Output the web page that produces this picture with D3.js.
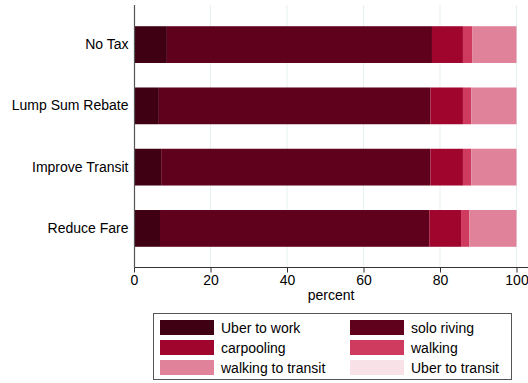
<!DOCTYPE html>
<html>
<head>
<meta charset="utf-8">
<script src="https://cdn.jsdelivr.net/npm/d3@7"></script>
<style>
  body { margin: 0; background: #fff; }
  text { font-family: "Liberation Sans", Arial, sans-serif; fill: #000; }
</style>
</head>
<body>
<svg id="chart" width="528" height="383"></svg>
<script>
// scenarios, top to bottom
let scenarios = ["No Tax", "Lump Sum Rebate", "Improve Transit", "Reduce Fare"];

// mode shares in percent, one array per mode (same order as scenarios)
let uberToWork     = [8.6, 6.5, 7.1, 6.8];
let soloRiving     = [69.3, 71.0, 70.4, 70.4];
let carpooling     = [8.1, 8.5, 8.5, 8.3];
let walking        = [2.5, 2.2, 2.2, 2.2];
let walkingTransit = [11.5, 11.8, 11.8, 12.3];
let uberTransit    = [0, 0, 0, 0];

let modes = ["Uber to work", "solo riving", "carpooling", "walking", "walking to transit", "Uber to transit"];
let modeColors = ["#3e0012", "#5f001c", "#a0052d", "#cf3a5f", "#e0839a", "#f8e2e8"];
let xTicks = [0, 20, 40, 60, 80, 100];

let svg = d3.select("#chart");
let width = 528, height = 383;
let fontSize = "14px";

let seriesValues = [uberToWork, soloRiving, carpooling, walking, walkingTransit, uberTransit];
let rows = scenarios.map(function(s, i) {
    let row = {scenario: s};
    modes.forEach(function(m, j) { row[m] = seriesValues[j][i]; });
    return row;
});
let stacked = d3.stack().keys(modes)(rows);

let x = d3.scaleLinear().domain([0, 100]).range([134, 516.5]);
let y = d3.scaleBand().domain(scenarios).range([6, 267])
    .paddingInner(0.4).paddingOuter(0.33);
let color = d3.scaleOrdinal().domain(modes).range(modeColors);

// grid lines
svg.append("g")
    .selectAll("line")
    .data(xTicks.slice(1))
    .join("line")
    .attr("x1", d => x(d)).attr("x2", d => x(d))
    .attr("y1", 5).attr("y2", 267)
    .attr("stroke", "#e6eff1")
    .attr("stroke-width", 1);

// bars
svg.append("g")
    .selectAll("g")
    .data(stacked)
    .join("g")
    .attr("fill", d => color(d.key))
    .selectAll("rect")
    .data(d => d)
    .join("rect")
    .attr("x", d => x(d[0]))
    .attr("width", d => x(d[1]) - x(d[0]))
    .attr("y", d => y(d.data.scenario))
    .attr("height", y.bandwidth());

// x axis
let xAxis = svg.append("g")
    .attr("transform", "translate(0,267.5)")
    .call(d3.axisBottom(x).tickValues(xTicks).tickSize(5).tickPadding(3));
xAxis.select(".domain").remove();
xAxis.append("line")
    .attr("x1", 134).attr("x2", width)
    .attr("stroke", "#333").attr("stroke-width", 1.2);
xAxis.selectAll(".tick line").attr("stroke", "#333");
xAxis.selectAll(".tick text")
    .style("font-size", fontSize)
    .style("font-family", "Liberation Sans, Arial, sans-serif")
    .attr("fill", "#000");

svg.append("text")
    .attr("x", (134 + width) / 2)
    .attr("y", 300)
    .attr("text-anchor", "middle")
    .style("font-size", fontSize)
    .text("percent");

// y axis
let yAxis = svg.append("g")
    .attr("transform", "translate(134.5,0)")
    .call(d3.axisLeft(y).tickSize(0).tickPadding(6));
yAxis.select(".domain").remove();
yAxis.append("line")
    .attr("y1", 5).attr("y2", 268)
    .attr("stroke", "#555").attr("stroke-width", 1.2);
yAxis.selectAll(".tick text")
    .style("font-size", fontSize)
    .style("font-family", "Liberation Sans, Arial, sans-serif")
    .attr("fill", "#000");

// legend
let legend = svg.append("g");
legend.append("rect")
    .attr("x", 153.5).attr("y", 313.5)
    .attr("width", 358).attr("height", 66)
    .attr("fill", "#fff")
    .attr("stroke", "#555");

let legendItems = legend.selectAll("g.item")
    .data(modes)
    .join("g")
    .attr("class", "item")
    .attr("transform", (d, i) => "translate(" + (i % 2 === 0 ? 160 : 350) + "," + (320 + Math.floor(i / 2) * 20) + ")");
legendItems.append("rect")
    .attr("width", 54).attr("height", 15)
    .attr("fill", d => color(d));
legendItems.append("text")
    .attr("x", 61).attr("y", 12.5)
    .style("font-size", fontSize)
    .text(d => d);
</script>
</body>
</html>
